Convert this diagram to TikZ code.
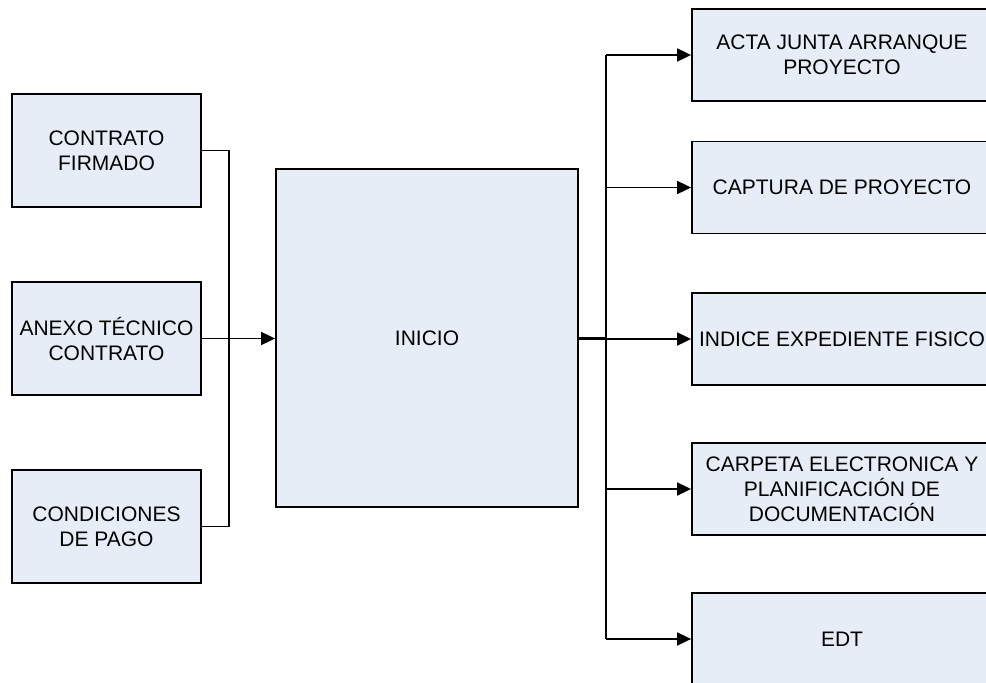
\documentclass[tikz,border=0pt]{standalone}
\usepackage{fontspec}
\setmainfont{Liberation Sans}
\usetikzlibrary{arrows.meta}
\definecolor{boxfill}{RGB}{231,237,247}
\tikzset{
  box/.style={draw=black, fill=boxfill, line width=1.8pt, inner sep=0pt, align=center,
    font=\fontsize{21}{25}\selectfont},
  leftbox/.style={box, minimum width=189pt, minimum height=113pt},
  rightbox/.style={box, minimum width=300pt, minimum height=92pt},
  conn/.style={draw=black, line width=1.8pt},
  arr/.style={conn, -{Triangle[length=14pt,width=13pt]}}
}
\begin{document}
\begin{tikzpicture}[x=1pt,y=-1pt]
\useasboundingbox (0,0) rectangle (986,683);
\begin{scope}
\clip (0,0) rectangle (986,683);
% left boxes
\node[leftbox] (c1) at (106.5,150.5) {CONTRATO\\FIRMADO};
\node[leftbox] (c2) at (106.5,338.5) {ANEXO TÉCNICO\\CONTRATO};
\node[leftbox] (c3) at (106.5,526.5) {CONDICIONES\\DE PAGO};
% main
\node[box, minimum width=302pt, minimum height=338pt] (inicio) at (427,338) {INICIO};
% right boxes
\node[rightbox] (r1) at (842,55) {ACTA JUNTA ARRANQUE\\PROYECTO};
\node[rightbox] (r2) at (842,187.5) {CAPTURA DE PROYECTO};
\node[rightbox] (r3) at (842,339) {INDICE EXPEDIENTE FISICO};
\node[rightbox] (r4) at (842,489) {CARPETA ELECTRONICA Y\\PLANIFICACIÓN DE\\DOCUMENTACIÓN};
\node[rightbox] (r5) at (842,639) {EDT};
% junctions
\coordinate (jl) at (229,338.5);
\coordinate (jr) at (606,338.5);
% left connectors
\draw[conn] (c1.east) -- (c1.east -| jl) -- (c3.east -| jl) -- (c3.east);
\draw[arr] (c2.east) -- (inicio.west |- c2.east);
% right connectors
\draw[conn, line width=3pt] (inicio.east |- jr) -- (jr);
\draw[conn] (r1.west -| jr) -- (r5.west -| jr);
\foreach \r in {r1,r2,r3,r4,r5}{
  \draw[arr] (\r.west -| jr) -- (\r.west);
}
\end{scope}
\end{tikzpicture}
\end{document}
